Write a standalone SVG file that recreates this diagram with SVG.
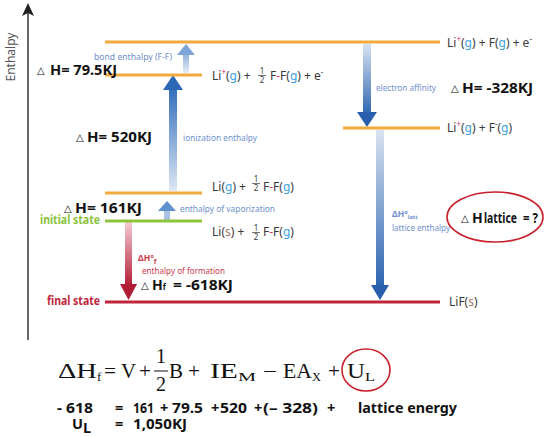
<svg xmlns="http://www.w3.org/2000/svg" width="550" height="437" viewBox="0 0 550 437">
<style>
.lvO{stroke:#f2aa3c;stroke-width:3;fill:none}
.lvG{stroke:#8cc43c;stroke-width:3;fill:none}
.lvR{stroke:#c0263a;stroke-width:3;fill:none}
.sp{font-family:"Noto Sans","Liberation Sans",sans-serif;font-size:12px;fill:#3a3a3a}
.fr{font-family:"Noto Sans","Liberation Sans",sans-serif;font-size:8px;fill:#3a3a3a;text-anchor:middle}
.g{fill:#3ca0dc}
.s{fill:#a0706a}
.pl{fill:#e0306a}
.blue{font-family:"Noto Sans","Liberation Sans",sans-serif;font-size:8.5px;fill:#6f90cc}
.red{font-family:"Noto Sans","Liberation Sans",sans-serif;font-size:8.5px;fill:#cc3a4c}
.bk{font-family:"Noto Sans","Liberation Sans",sans-serif;font-size:14px;font-weight:bold;fill:#111}
.tri{font-family:"DejaVu Sans",sans-serif;font-size:10px;font-weight:bold;fill:#111}
.mf{font-family:"Liberation Serif","DejaVu Serif",serif;font-size:20px;fill:#111}
.mfs{font-family:"Liberation Serif","DejaVu Serif",serif;font-size:13px;fill:#111}
.eq{font-family:"Noto Sans","Liberation Sans",sans-serif;font-size:14.5px;font-weight:bold;fill:#111}
</style>
<defs>
<linearGradient id="gUpDark" x1="0" y1="0" x2="0" y2="1"><stop offset="0" stop-color="#3470bc"/><stop offset="1" stop-color="#dde7f4"/></linearGradient>
<linearGradient id="gUpLight" x1="0" y1="0" x2="0" y2="1"><stop offset="0" stop-color="#8fb0dc"/><stop offset="1" stop-color="#e6edf7"/></linearGradient>
<linearGradient id="gDown" x1="0" y1="0" x2="0" y2="1"><stop offset="0" stop-color="#d8e3f1"/><stop offset="1" stop-color="#2c64b0"/></linearGradient>
<linearGradient id="gRed" x1="0" y1="0" x2="0" y2="1"><stop offset="0" stop-color="#f4ccd4"/><stop offset="1" stop-color="#b41c36"/></linearGradient>
</defs>

<g id="axis">
<line x1="28" y1="340" x2="28" y2="12" stroke="#333" stroke-width="1.5"/>
<path d="M22,16 L28,3 L34,16 L28,13 Z" fill="#222"/>
<text transform="translate(15,57) rotate(-90)" text-anchor="middle" font-family="Noto Sans, Liberation Sans, sans-serif" font-size="12" fill="#555">Enthalpy</text>
</g>

<g id="connectors">
<rect x="183" y="54" width="6" height="19" fill="url(#gUpLight)"/>
<path d="M177,55 L186,44 L195,55 Z" fill="#7ea3d6"/>
<rect x="169" y="89" width="8" height="102" fill="url(#gUpDark)"/>
<path d="M163,90 L173,75 L183,90 Z" fill="#2d68b6"/>
<rect x="164" y="209" width="6" height="11" fill="#a8c2e4"/>
<path d="M158,211 L167,201 L176,211 Z" fill="#5d90cc"/>
<rect x="363" y="44" width="8" height="71" fill="url(#gDown)"/>
<path d="M357,112 L367,127 L377,112 Z" fill="#2a5fae"/>
<rect x="376" y="130" width="8" height="157" fill="url(#gDown)"/>
<path d="M371,285 L380,300 L389,285 Z" fill="#2a5fae"/>
<rect x="125" y="222" width="7" height="64" fill="url(#gRed)"/>
<path d="M120,284 L128.5,300 L137,284 Z" fill="#b01c34"/>
</g>

<g id="lbl-arrows">
<text class="blue" x="94" y="60" textLength="78" lengthAdjust="spacingAndGlyphs">bond enthalpy (F-F)</text>
<text class="blue" x="183" y="141" textLength="74" lengthAdjust="spacingAndGlyphs">ionization enthalpy</text>
<text class="blue" x="180" y="212" textLength="95" lengthAdjust="spacingAndGlyphs">enthalpy of vaporization</text>
<text class="blue" x="376" y="91" textLength="60" lengthAdjust="spacingAndGlyphs">electron affinity</text>
<text class="blue" x="392" y="217" font-weight="bold">ΔH°<tspan font-size="5.5" dy="2">latt</tspan></text>
<text class="blue" x="392" y="231" textLength="58" lengthAdjust="spacingAndGlyphs">lattice enthalpy</text>
<text class="red" x="138" y="261" font-weight="bold" font-size="9.5">ΔH°<tspan font-size="7" dy="3">f</tspan></text>
<text class="red" x="142" y="274" textLength="83" lengthAdjust="spacingAndGlyphs">enthalpy of formation</text>
</g>

<g id="lvl-top">
<line class="lvO" x1="105" y1="42" x2="440" y2="42"/>
<text class="sp" x="447" y="47">Li<tspan class="pl" font-size="8" dy="-5">+</tspan><tspan dy="5">(</tspan><tspan class="g">g</tspan>) + F(<tspan class="g">g</tspan>) + e<tspan font-size="8" dy="-5">-</tspan></text>
</g>

<g id="lvl-ion">
<line class="lvO" x1="105" y1="75" x2="202" y2="75"/>
<text class="sp" x="212" y="80">Li<tspan class="pl" font-size="8" dy="-5">+</tspan><tspan dy="5">(</tspan><tspan class="g">g</tspan>) +</text>
<text class="fr" x="262" y="74">1</text>
<line x1="258" y1="75.5" x2="266" y2="75.5" stroke="#3a3a3a" stroke-width="0.7"/>
<text class="fr" x="262" y="83">2</text>
<text class="sp" x="270" y="80">F<tspan class="pl">-</tspan>F(<tspan class="g">g</tspan>) + e<tspan font-size="8" dy="-5">-</tspan></text>
</g>

<g id="lvl-ea">
<line class="lvO" x1="343" y1="128" x2="440" y2="128"/>
<text class="sp" x="447" y="132">Li<tspan class="pl" font-size="8" dy="-5">+</tspan><tspan dy="5">(</tspan><tspan class="g">g</tspan>) + F<tspan font-size="8" dy="-5">-</tspan><tspan dy="5">(</tspan><tspan class="g">g</tspan>)</text>
</g>

<g id="lvl-gas">
<line class="lvO" x1="105" y1="193" x2="202" y2="193"/>
<text class="sp" x="212" y="191">Li(<tspan class="g">g</tspan>) +</text>
<text class="fr" x="256" y="182">1</text>
<line x1="252" y1="183.5" x2="260" y2="183.5" stroke="#3a3a3a" stroke-width="0.7"/>
<text class="fr" x="256" y="191">2</text>
<text class="sp" x="263" y="191">F<tspan class="pl">-</tspan>F(<tspan class="g">g</tspan>)</text>
</g>

<g id="lvl-initial">
<line class="lvG" x1="105" y1="221" x2="202" y2="221"/>
<text x="40" y="224" font-family="Noto Sans, Liberation Sans, sans-serif" font-size="11.5" font-weight="bold" fill="#8cc43c" textLength="60" lengthAdjust="spacingAndGlyphs">initial state</text>
<text class="sp" x="212" y="236">Li(<tspan class="s">s</tspan>) +</text>
<text class="fr" x="256" y="231">1</text>
<line x1="252" y1="232.5" x2="260" y2="232.5" stroke="#3a3a3a" stroke-width="0.7"/>
<text class="fr" x="256" y="240">2</text>
<text class="sp" x="263" y="236">F<tspan class="pl">-</tspan>F(<tspan class="g">g</tspan>)</text>
</g>

<g id="lvl-final">
<line class="lvR" x1="105" y1="302" x2="440" y2="302"/>
<text x="47" y="305" font-family="Noto Sans, Liberation Sans, sans-serif" font-size="11.5" font-weight="bold" fill="#c0263a" textLength="53" lengthAdjust="spacingAndGlyphs">final state</text>
<text class="sp" x="449" y="306">LiF(<tspan class="s">s</tspan>)</text>
</g>

<g id="dH-values">
<text class="tri" x="37" y="74">△</text>
<text class="bk" x="50" y="75" textLength="67" lengthAdjust="spacingAndGlyphs">H= 79.5KJ</text>
<text class="tri" x="76" y="141">△</text>
<text class="bk" x="87" y="142" textLength="65" lengthAdjust="spacingAndGlyphs">H= 520KJ</text>
<text class="tri" x="64" y="212">△</text>
<text class="bk" x="75" y="213" textLength="67" lengthAdjust="spacingAndGlyphs">H= 161KJ</text>
<text class="tri" x="451" y="92">△</text>
<text class="bk" x="462" y="93" textLength="71" lengthAdjust="spacingAndGlyphs">H=  -328KJ</text>
<text class="tri" x="141" y="289">△</text>
<text class="bk" x="152" y="290">H<tspan font-size="8">f</tspan></text>
<text class="bk" x="173" y="290" textLength="60" lengthAdjust="spacingAndGlyphs">= -618KJ</text>
</g>

<g id="lattice-question">
<ellipse cx="495" cy="217" rx="48" ry="25" fill="none" stroke="#c8202c" stroke-width="1.6"/>
<text class="tri" x="461" y="222">△</text>
<text class="bk" x="472" y="223" font-size="15">H</text>
<text class="bk" x="484" y="223" font-size="9" textLength="33" lengthAdjust="spacingAndGlyphs">lattice</text>
<text class="bk" x="523" y="223" font-size="14" textLength="15" lengthAdjust="spacingAndGlyphs">= ?</text>
</g>

<g id="formula">
<text class="mf" x="58" y="378" textLength="39" lengthAdjust="spacingAndGlyphs">ΔH</text>
<text class="mfs" x="97" y="381">f</text>
<text class="mf" x="104" y="378" textLength="12" lengthAdjust="spacingAndGlyphs">=</text>
<text class="mf" x="121" y="378" textLength="15" lengthAdjust="spacingAndGlyphs">V</text>
<text class="mf" x="139" y="378" textLength="12" lengthAdjust="spacingAndGlyphs">+</text>
<text class="mf" x="161" y="363" text-anchor="middle" font-size="17">1</text>
<line x1="154" y1="371" x2="168" y2="371" stroke="#111" stroke-width="1"/>
<text class="mf" x="161" y="391" text-anchor="middle" font-size="17">2</text>
<text class="mf" x="169" y="378" textLength="14" lengthAdjust="spacingAndGlyphs">B</text>
<text class="mf" x="188" y="378" textLength="12" lengthAdjust="spacingAndGlyphs">+</text>
<text class="mf" x="210" y="378" textLength="28" lengthAdjust="spacingAndGlyphs">IE</text>
<text class="mfs" x="238" y="381" textLength="18" lengthAdjust="spacingAndGlyphs">M</text>
<text class="mf" x="263" y="378" textLength="14" lengthAdjust="spacingAndGlyphs">−</text>
<text class="mf" x="283" y="378" textLength="29" lengthAdjust="spacingAndGlyphs">EA</text>
<text class="mfs" x="312" y="381" textLength="9" lengthAdjust="spacingAndGlyphs">X</text>
<text class="mf" x="328" y="378" textLength="12" lengthAdjust="spacingAndGlyphs">+</text>
<text class="mf" x="347" y="378" textLength="18" lengthAdjust="spacingAndGlyphs">U</text>
<text class="mfs" x="365" y="381" textLength="10" lengthAdjust="spacingAndGlyphs">L</text>
<ellipse cx="366" cy="370" rx="24" ry="21" fill="none" stroke="#c8202c" stroke-width="1.6"/>
</g>

<g id="calc">
<text class="eq" x="57" y="413" textLength="36" lengthAdjust="spacingAndGlyphs">- 618</text>
<text class="eq" x="115" y="413">=</text>
<text class="eq" x="133" y="413" textLength="21" lengthAdjust="spacingAndGlyphs">161</text>
<text class="eq" x="160" y="413">+</text>
<text class="eq" x="172" y="413" textLength="31" lengthAdjust="spacingAndGlyphs">79.5</text>
<text class="eq" x="211" y="413">+</text>
<text class="eq" x="220" y="413" textLength="27" lengthAdjust="spacingAndGlyphs">520</text>
<text class="eq" x="254" y="413">+</text>
<text class="eq" x="263" y="413" textLength="55" lengthAdjust="spacingAndGlyphs">(– 328)</text>
<text class="eq" x="327" y="413">+</text>
<text class="eq" x="358" y="413" textLength="99" lengthAdjust="spacingAndGlyphs">lattice energy</text>
<text class="eq" x="72" y="429">U</text>
<text class="eq" x="83" y="433" font-size="10">L</text>
<text class="eq" x="115" y="429">=</text>
<text class="eq" x="133" y="429" textLength="54" lengthAdjust="spacingAndGlyphs">1,050KJ</text>
</g>
</svg>
